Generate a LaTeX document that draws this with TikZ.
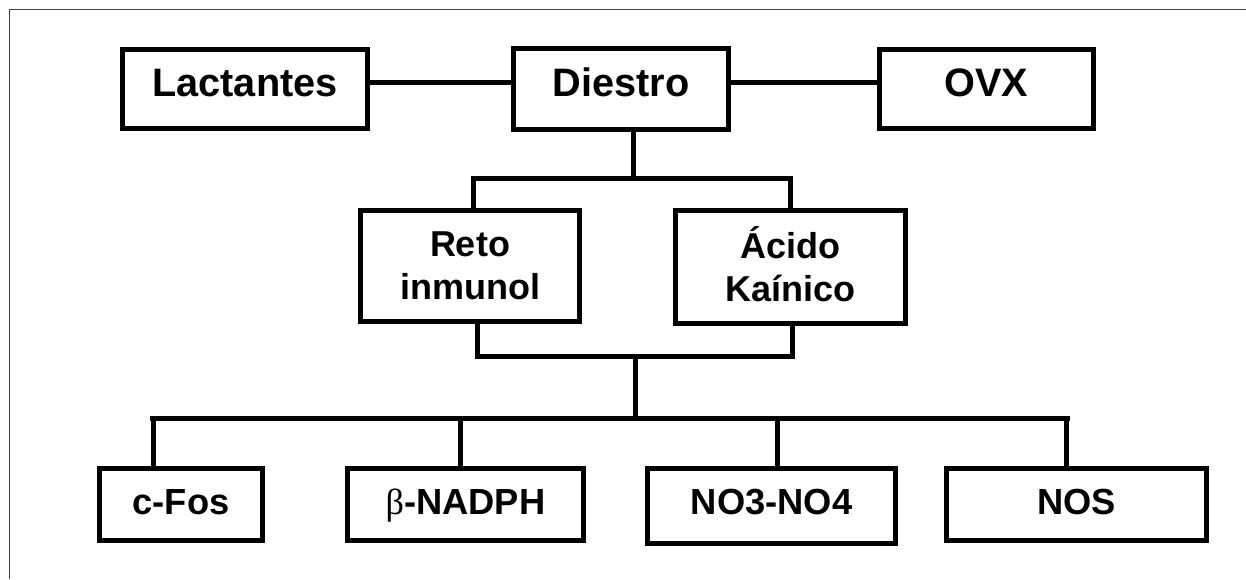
\documentclass[tikz,border=0pt]{standalone}
\usepackage{fontspec}
\setmainfont{Liberation Sans}
\newfontfamily\grk{Liberation Serif}
\begin{document}
\begin{tikzpicture}[x=1pt,y=-1pt,
  boxbase/.style={draw,line width=5pt,inner sep=0pt,fill=white},
  topbox/.style={boxbase,font=\bfseries\fontsize{39.7}{44}\selectfont,text height=28.4pt,text depth=13pt},
  midbox/.style={boxbase,align=center,font=\bfseries\fontsize{36}{43}\selectfont},
  lowbox/.style={boxbase,font=\bfseries\fontsize{36.3}{44}\selectfont,text height=26pt,text depth=7pt},
  conn/.style={line width=5pt,line join=miter},
  frame/.style={line width=1.5pt,black!75}]
\useasboundingbox (0,0) rectangle (1246,579);
\draw[frame] (9.5,579) -- (9.5,9.5) -- (1246,9.5);

% top row
\node[topbox,minimum width=245pt,minimum height=79pt] (lact) at (245,89) {Lactantes};
\node[topbox,minimum width=215pt,minimum height=81pt] (die) at (621,89) {Diestro};
\node[topbox,minimum width=214pt,minimum height=79pt] (ovx) at (986.5,89) {OVX};

% middle row
\node[midbox,minimum width=219pt,minimum height=111pt] (reto) at (470,266) {Reto\\inmunol};
\node[midbox,minimum width=230pt,minimum height=113pt] (acido) at (790.5,267) {\smash{Á}cido\\Kaínico};

% bottom row
\node[lowbox,minimum width=163pt,minimum height=72pt] (fos) at (181,504.5) {c-Fos};
\node[lowbox,minimum width=236pt,minimum height=72pt] (nadph) at (465.5,504.5) {{\grk\mdseries β}-NADPH};
\node[lowbox,minimum width=248pt,minimum height=75pt,text depth=10pt] (no) at (771.5,506) {NO3-NO4};
\node[lowbox,minimum width=260pt,minimum height=72pt] (nos) at (1076.5,504.5) {NOS};

% bend points
\coordinate (tbL) at (473,178);
\coordinate (tbC) at (633,178);
\coordinate (tbR) at (790,178);
\coordinate (bbL) at (477,356);
\coordinate (bbC) at (635,356);
\coordinate (bbR) at (792,356);
\coordinate (barC) at (635,418);
\coordinate (barL) at (150,418);
\coordinate (barR) at (1070,418);
\coordinate (v1) at (153,418);
\coordinate (v2) at (460,418);
\coordinate (v3) at (777,418);
\coordinate (v4) at (1066,418);

% connectors
\draw[conn] ([yshift=7pt]lact.east) -- ([yshift=7pt]die.west);
\draw[conn] ([yshift=7pt]die.east) -- ([yshift=7pt]ovx.west);
\draw[conn] (die.south -| tbC) -- (tbC);
\draw[conn] (reto.north -| tbL) -- (tbL) -- (tbR) -- (acido.north -| tbR);
\draw[conn] (reto.south -| bbL) -- (bbL) -- (bbR) -- (acido.south -| bbR);
\draw[conn] (bbC) -- (barC);
\draw[conn] (barL) -- (barR);
\draw[conn] (v1) -- (fos.north -| v1);
\draw[conn] (v2) -- (nadph.north -| v2);
\draw[conn] (v3) -- (no.north -| v3);
\draw[conn] (v4) -- (nos.north -| v4);
\end{tikzpicture}
\end{document}
